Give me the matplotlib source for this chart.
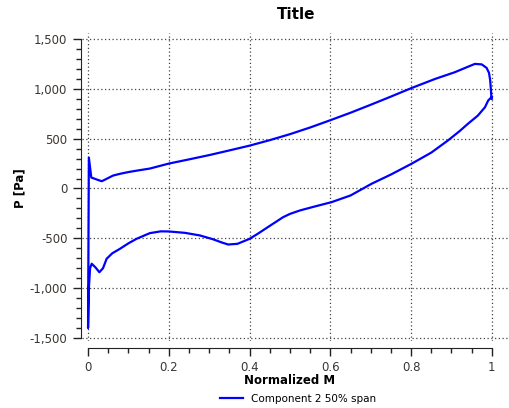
import matplotlib
matplotlib.use("Agg")
import matplotlib.pyplot as plt
from matplotlib.ticker import MultipleLocator, FuncFormatter

# upper side, leading edge -> trailing edge
m_upper = [0.002, 0.008, 0.015, 0.025, 0.034, 0.045, 0.062, 0.08, 0.1, 0.125,
           0.153, 0.2, 0.25, 0.3, 0.35, 0.4, 0.45, 0.5, 0.55, 0.6, 0.65, 0.7,
           0.75, 0.8, 0.86, 0.908, 0.94, 0.958, 0.975, 0.987, 0.993, 0.996,
           0.999, 1.0]
p_upper = [310, 110, 100, 85, 73, 95, 130, 148, 165, 182,
           200, 250, 292, 335, 382, 430, 485, 545, 612, 685, 760, 840,
           922, 1006, 1100, 1166, 1220, 1250, 1245, 1210, 1160, 1083,
           916, 900]

# lower side, leading edge -> trailing edge
m_lower = [0.0, 0.0005, 0.002, 0.005, 0.009, 0.018, 0.028, 0.037, 0.046, 0.06,
           0.079, 0.1, 0.12, 0.153, 0.18, 0.2, 0.24, 0.277, 0.31, 0.33, 0.347,
           0.37, 0.4, 0.42, 0.45, 0.483, 0.5, 0.525, 0.56, 0.603, 0.65, 0.702,
           0.75, 0.801, 0.85, 0.891, 0.92, 0.941, 0.965, 0.983, 0.991, 1.0]
p_lower = [-1400, -1300, -1000, -800, -755, -790, -840, -800, -705, -650,
           -605, -550, -505, -448, -430, -431, -445, -471, -510, -540, -562,
           -555, -505, -455, -375, -288, -255, -220, -182, -137, -70, 47,
           140, 248, 360, 481, 575, 650, 730, 815, 883, 920]

series_name = "Component 2 50% span"

# one closed loop: trailing edge -> lower side -> leading edge -> upper side
m_path = m_lower[::-1] + m_upper
p_path = p_lower[::-1] + p_upper

fig = plt.figure(figsize=(5.1, 4.08), dpi=100)
ax = fig.add_axes([82 / 510, 1 - 341 / 408, 428 / 510, 308 / 408])

line, = ax.plot(m_path, p_path, color="#0000ff", lw=1.6, label=series_name)

ax.set_xlim(-0.015, 1.045)
ax.set_ylim(-1530, 1560)

ax.xaxis.set_major_locator(MultipleLocator(0.2))
ax.xaxis.set_minor_locator(MultipleLocator(0.05))
ax.yaxis.set_major_locator(MultipleLocator(500))
ax.yaxis.set_minor_locator(MultipleLocator(100))
ax.xaxis.set_major_formatter(FuncFormatter(lambda v, p: "%g" % round(v, 2)))
ax.yaxis.set_major_formatter(FuncFormatter(lambda v, p: "{:,.0f}".format(v)))

for s in ["top", "right"]:
    ax.spines[s].set_visible(False)
ax.spines["left"].set_position(("outward", 1))
ax.spines["bottom"].set_position(("outward", 5))
ax.spines["left"].set_bounds(-1500, 1500)
ax.spines["bottom"].set_bounds(0, 1)
ax.spines["left"].set_color("#222222")
ax.spines["bottom"].set_color("#222222")

ax.tick_params(which="major", length=6, width=1, color="#222222",
               labelsize=8.5, labelcolor="#3a3530")
ax.tick_params(which="minor", length=3.5, width=1, color="#222222")

ax.grid(which="major", color="#444444", lw=0.9, linestyle=(0, (1, 2)))

ax.set_title("Title", fontsize=11, fontweight="bold", pad=10)
ax.set_xlabel("Normalized M", fontsize=8.5, fontweight="bold")
ax.set_ylabel("P [Pa]", fontsize=8.5, fontweight="bold")
ax.xaxis.set_label_coords((290 - 82) / 428, (341 - 380) / 308)
ax.yaxis.set_label_coords((20 - 82) / 428, (341 - 188) / 308)
ax.xaxis.label.set_va("center")
ax.yaxis.label.set_va("center")

fig.legend(handles=[line], loc="center", bbox_to_anchor=(298 / 510, 9 / 408),
           frameon=False, fontsize=7.5, handlelength=2.2)

fig.savefig("out.png", dpi=100)
